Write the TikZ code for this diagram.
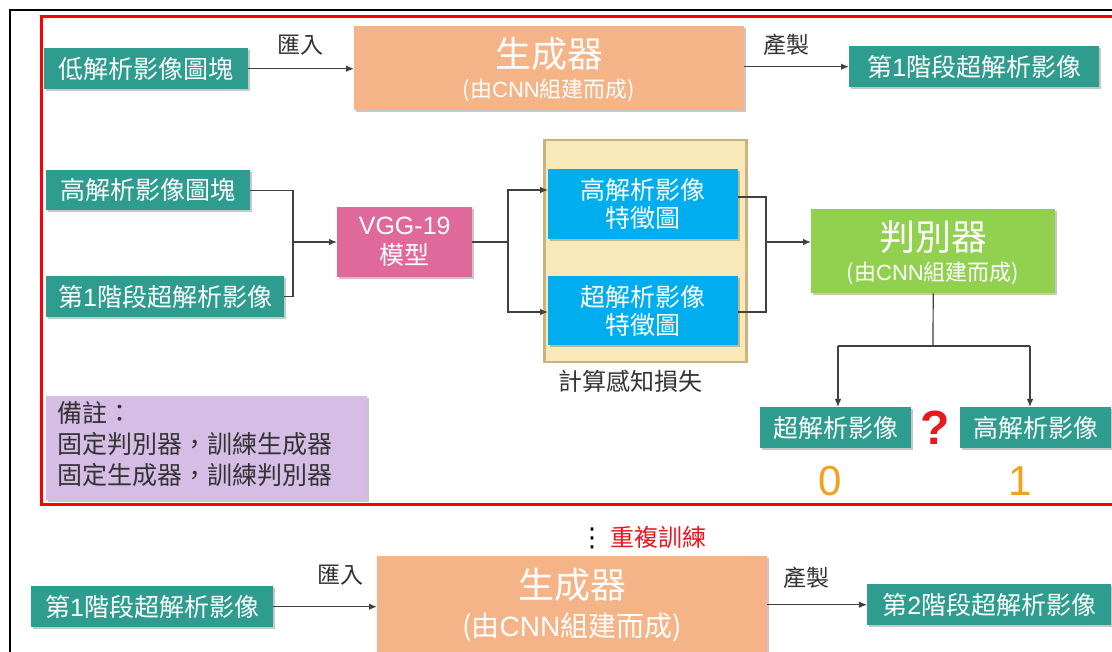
\documentclass[tikz,border=0pt]{standalone}
\usepackage{fontspec}
\setmainfont{Noto Sans CJK TC}
\newfontfamily\lat{Liberation Sans}
\newfontfamily\dv{DejaVu Sans}
\usetikzlibrary{arrows.meta,shadows}
\definecolor{teal1}{HTML}{2E9C8E}
\definecolor{gencol}{HTML}{F4B488}
\definecolor{disccol}{HTML}{92D050}
\definecolor{featcol}{HTML}{00AEEF}
\definecolor{vggcol}{HTML}{E0699B}
\definecolor{boxbg}{HTML}{F9E9B8}
\definecolor{boxbd}{HTML}{C8B47E}
\definecolor{notecol}{HTML}{D5BDE5}
\definecolor{digcol}{HTML}{F5A01A}
\definecolor{redq}{HTML}{E8181F}
\definecolor{txt}{HTML}{333333}
\definecolor{linec}{HTML}{404040}
\newcommand{\fs}[1]{\fontsize{#1}{#1}\selectfont}
\tikzset{
  shd/.style={drop shadow={shadow xshift=1.8pt,shadow yshift=-1.8pt,fill=black,opacity=0.22}},
  tbox/.style={shd,fill=teal1,text=white,inner sep=0pt,anchor=north west,font=\fs{25}},
  genbox/.style={shd,fill=gencol,inner sep=0pt,anchor=north west},
  lbl/.style={text=txt,inner sep=0pt,font=\fs{23}},
  wtxt/.style={text=white,inner sep=0pt},
  arr/.style={draw=linec,line width=1.2pt,-{Latex[length=8pt,width=6.5pt]}},
  ln/.style={draw=linec,line width=1.2pt},
}
\begin{document}
\begin{tikzpicture}[x=1pt,y=-1pt]
\useasboundingbox (0,0) rectangle (1112,652);
\clip (0,0) rectangle (1112,652);
\fill[white] (0,0) rectangle (1112,652);
% frames
\draw[black,line width=2pt] (10,660) -- (10,10) -- (1120,10);
\draw[red,line width=3pt] (41,17) rectangle (1120,504);

% top row
\node[tbox,minimum width=204pt,minimum height=41pt] (lr) at (44,48) {低解析影像圖塊};
\node[genbox,minimum width=390pt,minimum height=84pt] (gen1) at (354,26) {};
\node[wtxt,font=\fs{36}] at (549,54) {生成器};
\node[wtxt,font=\fs{22}] at (549,90) {(由{\lat CNN}組建而成)};
\node[tbox,minimum width=250pt,minimum height=41pt] (sr1) at (849,46) {第{\lat 1}階段超解析影像};
\draw[arr] (lr.east) -- (gen1.west |- lr.east);
\node[lbl] at (300,45) {匯入};
\draw[arr] (gen1.east |- sr1.west) -- (sr1.west);
\node[lbl] at (786,45) {產製};

% middle
\node[tbox,minimum width=204pt,minimum height=40pt] (hr) at (46,170) {高解析影像圖塊};
\node[tbox,minimum width=238pt,minimum height=41pt] (sr1b) at (46,276) {第{\lat 1}階段超解析影像};
\node[shd,fill=vggcol,text=white,inner sep=0pt,anchor=north west,minimum width=135pt,minimum height=70pt,align=center,font=\fs{25}] (vgg) at (337,207) {{\lat VGG-19}\\[5pt]模型};
\coordinate (j1) at (293,242);
\draw[ln] (hr.east) -- (j1 |- hr.east) -- (j1 |- sr1b.east) -- (sr1b.east);
\draw[arr] (j1) -- (vgg.west |- j1);

\node[draw=boxbd,line width=2.5pt,fill=boxbg,inner sep=0pt,anchor=north west,minimum width=202pt,minimum height=222pt] (feat) at (543,139) {};
\node[shd,fill=featcol,text=white,inner sep=0pt,anchor=north west,minimum width=190pt,minimum height=70pt,align=center,font=\fs{25}] (fh) at (548,169) {高解析影像\\[3pt]特徵圖};
\node[shd,fill=featcol,text=white,inner sep=0pt,anchor=north west,minimum width=190pt,minimum height=69pt,align=center,font=\fs{25}] (fs) at (548,276) {超解析影像\\[3pt]特徵圖};
\node[lbl,font=\fs{24}] (loss) at (630,381) {計算感知損失};
\coordinate (j2) at (508,242);
\coordinate (fhin) at (508,190);
\coordinate (fsin) at (508,312);
\draw[ln] (vgg.east |- j2) -- (j2);
\draw[arr] (j2) -- (fhin) -- (fh.west |- fhin);
\draw[arr] (j2) -- (fsin) -- (fs.west |- fsin);

\node[shd,fill=disccol,inner sep=0pt,anchor=north west,minimum width=244pt,minimum height=84pt] (disc) at (811,209) {};
\node[wtxt,font=\fs{36}] at (933,237) {判別器};
\node[wtxt,font=\fs{22}] at (933,273) {(由{\lat CNN}組建而成)};
\coordinate (j3) at (766,242);
\draw[ln] (fh.east |- 0,197) -- (766,197) -- (766,312) -- (fs.east |- 0,312);
\draw[arr] (j3) -- (disc.west |- j3);

\node[tbox,minimum width=151pt,minimum height=41pt] (outsr) at (760,407) {超解析影像};
\node[tbox,minimum width=151pt,minimum height=41pt] (outhr) at (960,407) {高解析影像};
\coordinate (j4) at (933,346);
\coordinate (b1) at (838,346);
\coordinate (b2) at (1030,346);
\draw[ln] (disc.south) -- (j4);
\draw[ln] (b1) -- (b2);
\draw[arr] (b1) -- (b1 |- outsr.north);
\draw[arr] (b2) -- (b2 |- outhr.north);
\node[text=redq,inner sep=0pt,font=\lat\bfseries\fs{48}] (q) at (935,428) {?};
\node[text=digcol,inner sep=0pt,font=\lat\fs{42}] (d0) at (830,481) {0};
\node[text=digcol,inner sep=0pt,font=\lat\fs{42}] (d1) at (1020,481) {1};

\node[shd,fill=notecol,text=txt,inner sep=0pt,anchor=north west,minimum width=321pt,minimum height=104pt] (note) at (46,396) {};
\node[text=txt,inner sep=0pt,anchor=north west,align=left,font=\fs{25}] at (57,401) {備註：\\[6pt]固定判別器，訓練生成器\\[6pt]固定生成器，訓練判別器};

% repeat
\node[text=black,inner sep=0pt,font=\dv\fs{26}] at (592,538) {⋮};
\node[text=redq,inner sep=0pt,font=\fs{24}] at (658,537) {重複訓練};

% bottom row
\node[tbox,minimum width=242pt,minimum height=41pt] (sr1c) at (31,586) {第{\lat 1}階段超解析影像};
\node[genbox,minimum width=390pt,minimum height=110pt] (gen2) at (377,556) {};
\node[wtxt,font=\fs{36}] at (572,585) {生成器};
\node[wtxt,font=\fs{28}] at (572,627) {(由{\lat CNN}組建而成)};
\node[tbox,minimum width=244pt,minimum height=41pt] (sr2) at (867,584) {第{\lat 2}階段超解析影像};
\draw[arr] (sr1c.east) -- (gen2.west |- sr1c.east);
\node[lbl] at (340,575) {匯入};
\draw[arr] (gen2.east |- sr2.west) -- (sr2.west);
\node[lbl] at (806,578) {產製};
\end{tikzpicture}
\end{document}
